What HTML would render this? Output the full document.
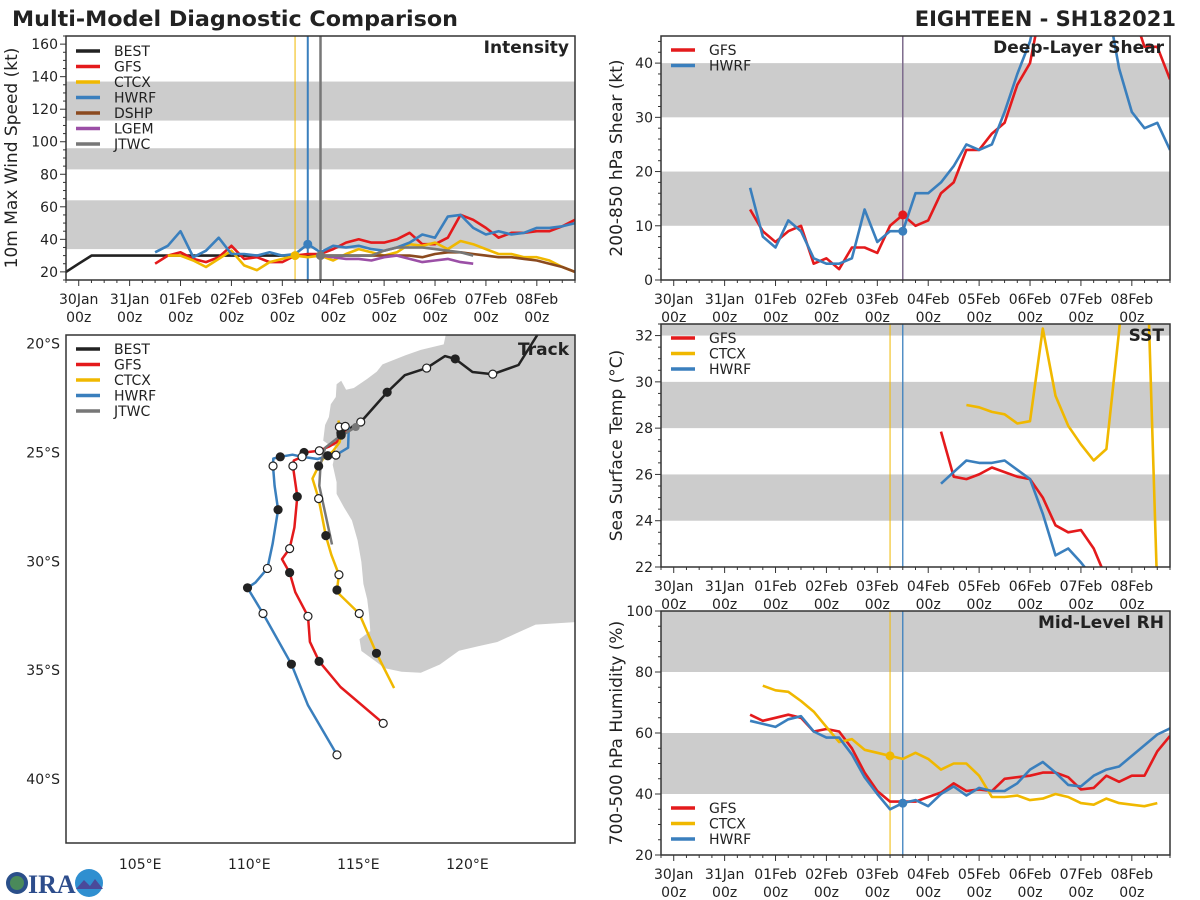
<!DOCTYPE html>
<html><head><meta charset="utf-8"><title>Multi-Model Diagnostic Comparison</title>
<style>
html,body{margin:0;padding:0;background:#fff;}
svg{display:block;font-family:"DejaVu Sans","Liberation Sans",sans-serif;}
</style></head>
<body>
<svg id="chart" width="1200" height="900" viewBox="0 0 1200 900" xmlns="http://www.w3.org/2000/svg">
<text x="12" y="26" font-size="21" font-weight="bold" fill="#222" textLength="446" lengthAdjust="spacingAndGlyphs">Multi-Model Diagnostic Comparison</text>
<text x="1176" y="26" font-size="21" font-weight="bold" fill="#222" text-anchor="end">EIGHTEEN - SH182021</text>
<g>
<circle cx="17" cy="883" r="11" fill="#2a4f8a"/>
<circle cx="17" cy="883" r="7" fill="#4a8a5a"/>
<text x="28" y="893" font-size="26" font-weight="bold" fill="#2d4d8c" font-family="Liberation Serif,serif">IRA</text>
<circle cx="89" cy="883" r="14" fill="#2f8fd0"/>
<path d="M76 889 L84 880 L90 886 L95 879 L103 889 Z" fill="#4a4a9a"/>
</g>
</svg>
<script>
// ---------- DATA ----------
const dayLabels = ['30Jan','31Jan','01Feb','02Feb','03Feb','04Feb','05Feb','06Feb','07Feb','08Feb'];
const tStep = 0.25;
// Intensity (kt)
const intBestStart = -0.25;
const intBest = [20,25,30,30,30,30,30,30,30,30,30,30,30,30,30,30,30,30,30,30,30];
const intGfsStart = 1.5;
const intGfs = [25,30,32,28,26,29,36,28,29,26,26,30,31,31,34,38,40,38,38,40,44,37,37,41,55,52,47,41,44,44,45,45,48,52];
const intCtcxStart = 1.75;
const intCtcx = [30,30,27,23,28,33,24,21,26,28,30,29,30,27,31,34,32,30,32,37,36,38,34,39,37,34,31,31,29,29,27,23,20];
const intHwrfStart = 1.5;
const intHwrf = [32,36,45,29,33,41,31,31,30,32,30,31,37,32,36,35,36,34,33,35,38,43,41,54,55,47,43,45,43,44,47,47,48,50];
const intDshpStart = 4.75;
const intDshp = [30,30,30,30,30,30,30,30,29,31,32,32,31,30,29,29,28,27,25,23,20];
const intLgemStart = 4.75;
const intLgem = [30,29,28,28,27,29,30,28,26,27,28,26,25];
const intJtwcStart = 4.75;
const intJtwc = [30,30,30,30,30,33,35,35,35,34,33,32,30];
// Shear (kt)
const shrGfsStart = 1.5;
const shrGfs = [13,9,7,9,10,3,4,2,6,6,5,10,12,10,11,16,18,24,24,27,29,36,40,52,55,58,60,58,55,55,50,43,43,37];
const shrHwrfStart = 1.5;
const shrHwrf = [17,8,6,11,9,4,3,3,4,13,7,9,9,16,16,18,21,25,24,25,31,38,44,55,58,60,58,55,52,39,31,28,29,24];
// SST (C)
const sstGfsStart = 5.25;
const sstGfs = [27.85,25.9,25.8,26.0,26.3,26.1,25.9,25.8,25.0,23.8,23.5,23.6,22.8,21.5];
const sstHwrfStart = 5.25;
const sstHwrf = [25.6,26.1,26.6,26.5,26.5,26.6,26.2,25.8,24.3,22.5,22.8,22.2,21.5];
const sstCtcxStart = 5.75;
const sstCtcx = [29.0,28.9,28.7,28.6,28.2,28.3,32.3,29.4,28.1,27.3,26.6,27.1,32.2,38.0,38.8,20.9];
// RH (%)
const rhGfsStart = 1.5;
const rhGfs = [66,64,65,66,65,60.5,61.3,60.5,55,47,41,37.5,37.5,37.5,39,40.5,43.5,41,41.5,41,45,45.5,46,47,47,45.5,41.5,42,46,44,46,46,54,59];
const rhCtcxStart = 1.75;
const rhCtcx = [75.5,74,73.5,70.5,67,62,57,58,54.5,53.5,52.5,51.5,53.5,51.5,48,50,50,46,39,39,39.5,38,38.5,40,39,37,36.5,38.5,37,36.5,36,37];
const rhHwrfStart = 1.5;
const rhHwrf = [64,63,62,64.5,65.5,60.5,58.5,58.5,53,45.5,40,35,37,38,36,40,42.5,39.5,42,41,41,43.5,48,50.5,47,43,42.5,46,48,49,52.5,56,59.5,61.5];
// Track [lon E, lat S]
const trkBest = [[123.2,19.6],[122.34,20.98],[121.16,21.4],[120.23,21.3],[119.44,20.7],[118.97,20.57],[118.13,21.12],[117.13,21.45],[116.32,22.23],[115.11,23.6],[114.7,23.83],[114.62,23.9]];
const trkBestDots = [[121.16,21.4,0],[119.44,20.7,1],[118.13,21.12,0],[116.32,22.23,1],[115.11,23.6,0]];
const trkGfs = [[114.44,23.95],[114.0,24.53],[113.65,24.73],[113.21,24.92],[112.51,25.0],[112.42,25.2],[112.04,25.37],[112.0,25.62],[112.2,27.03],[112.07,28.45],[111.85,29.42],[111.5,29.9],[111.85,30.52],[112.11,31.42],[112.69,32.53],[112.78,33.7],[113.2,34.6],[114.18,35.78],[116.14,37.45]];
const trkGfsDots = [[114.2,24.1,1],[113.21,24.92,0],[112.51,25.0,1],[112.42,25.2,0],[112.0,25.62,0],[112.2,27.03,1],[111.85,29.42,0],[111.85,30.52,1],[112.69,32.53,0],[113.2,34.6,1],[116.14,37.45,0]];
const trkCtcx = [[114.09,23.53],[114.13,23.83],[114.4,23.8],[114.21,24.2],[114.14,24.53],[113.83,24.95],[113.39,25.28],[113.18,25.62],[112.9,26.2],[113.18,27.12],[113.51,28.82],[113.76,29.7],[114.11,30.62],[114.02,31.32],[114.14,31.53],[115.04,32.4],[115.83,34.23],[116.64,35.83]];
const trkCtcxDots = [[114.13,23.83,0],[114.4,23.8,0],[114.21,24.2,1],[113.18,25.62,1],[113.18,27.12,0],[113.51,28.82,1],[114.11,30.62,0],[114.02,31.32,1],[115.04,32.4,0],[115.83,34.23,1]];
const trkHwrf = [[114.56,23.83],[114.53,24.78],[113.97,25.12],[113.57,25.17],[113.13,25.3],[112.42,25.2],[111.98,25.1],[111.42,25.2],[111.1,25.28],[111.09,25.62],[111.16,26.53],[111.32,27.63],[111.07,29.2],[110.83,30.33],[110.28,30.98],[109.92,31.22],[110.63,32.4],[111.93,34.73],[112.69,36.62],[114.02,38.9]];
const trkHwrfDots = [[113.97,25.12,0],[113.6,25.15,1],[111.42,25.2,1],[111.09,25.62,0],[111.32,27.63,1],[110.83,30.33,0],[109.92,31.22,1],[110.63,32.4,0],[111.93,34.73,1],[114.02,38.9,0]];
const trkJtwc = [[114.88,23.83],[114.0,24.37],[113.48,24.78],[113.27,25.53],[113.21,26.53],[113.79,29.23]];
const lonTicks = [105,110,115,120];
const latTicks = [20,25,30,35,40];

// ---------- HELPERS ----------
const svg = document.getElementById('chart');
const NS = 'http://www.w3.org/2000/svg';
function mk(parent, tag, attrs){ const e=document.createElementNS(NS,tag); for(const k in attrs) e.setAttribute(k,attrs[k]); parent.appendChild(e); return e; }
const C = {best:'#222222',gfs:'#e41a1c',ctcx:'#f0b800',hwrf:'#3a7fbd',dshp:'#8b4a1f',lgem:'#9b4fa6',jtwc:'#777777'};
const T0=-0.25, T1=9.75;
let clipN=0;

function panel(o){
  const g = mk(svg,'g',{});
  
  
  const xs = t => o.x0 + (t-T0)/(T1-T0)*(o.x1-o.x0);
  const ys = v => o.y1 - (v-o.ymin)/(o.ymax-o.ymin)*(o.y1-o.y0);
  const cid = 'clip'+(clipN++);
  const cp = mk(mk(g,'defs',{}),'clipPath',{id:cid});
  mk(cp,'rect',{x:o.x0,y:o.y0,width:o.x1-o.x0,height:o.y1-o.y0});
  o.bands.forEach(b=>{
    const r = mk(g,'rect',{x:o.x0,y:ys(Math.min(b[1],o.ymax)),width:o.x1-o.x0,height:ys(b[0])-ys(Math.min(b[1],o.ymax)),fill:'#cccccc'});
    
    
  });
  const plot = mk(g,'g',{'clip-path':'url(#'+cid+')'});
  o.vlines.forEach(v=>{
    const l = mk(plot,'line',{x1:xs(v[0]),x2:xs(v[0]),y1:o.y0,y2:o.y1,stroke:v[1],'stroke-width':v[2]});
    
    
  });
  o.series.forEach(s=>{
    const pts = s.vals.map((v,i)=>xs(s.t0+i*tStep).toFixed(1)+','+ys(v).toFixed(1)).join(' ');
    const p = mk(plot,'polyline',{points:pts,fill:'none',stroke:s.color,'stroke-width':2.6,'stroke-linejoin':'round'});
    
    
  });
  o.dots.forEach(d=>{
    const s = o.series.find(q=>q.key===d[0]);
    const i = Math.round((d[1]-s.t0)/tStep);
    const c = mk(plot,'circle',{cx:xs(d[1]),cy:ys(s.vals[i]),r:4.5,fill:s.color});
    
    
  });
  const fr = mk(g,'rect',{x:o.x0,y:o.y0,width:o.x1-o.x0,height:o.y1-o.y0,fill:'none',stroke:'#333','stroke-width':1.5});
  
  
  for(let v=o.ymin; v<=o.ymax+1e-6; v+=o.yminor){
    const major = Math.abs(((v - o.ymajor0) / o.ymajor) - Math.round((v - o.ymajor0) / o.ymajor))<1e-6 && v>=o.ymajor0;
    mk(g,'line',{x1:o.x0,x2:o.x0-(major?6:3),y1:ys(v),y2:ys(v),stroke:'#333','stroke-width':1});
    if(major){
      const t = mk(g,'text',{x:o.x0-8,y:ys(v)+5,'font-size':14,fill:'#222','text-anchor':'end'});
      t.textContent = String(v);
      
      
    }
  }
  for(let t=T0; t<=T1+1e-6; t+=0.25){
    const major = Math.abs(t-Math.round(t))<1e-6 && t>=0;
    mk(g,'line',{x1:xs(t),x2:xs(t),y1:o.y1,y2:o.y1+(major?6:3),stroke:'#333','stroke-width':1});
  }
  dayLabels.forEach((d,i)=>{
    const t1 = mk(g,'text',{x:xs(i),y:o.y1+24,'font-size':14,fill:'#222','text-anchor':'middle'});
    t1.textContent = d;
    
    
    const t2 = mk(g,'text',{x:xs(i),y:o.y1+42,'font-size':14,fill:'#222','text-anchor':'middle'});
    t2.textContent = '00z';
    
    
  });
  const yl = mk(g,'text',{x:0,y:0,'font-size':17,fill:'#222','text-anchor':'middle',transform:'translate('+o.ylabX+','+((o.y0+o.y1)/2)+') rotate(-90)'});
  yl.textContent = o.ylabel;
  
  
  const ti = mk(g,'text',{x:o.x1-6,y:o.y0+17,'font-size':17,'font-weight':'bold',fill:'#222','text-anchor':'end'});
  ti.textContent = o.title;
  
  
  legend(g, o.x0, o.legY, o.series.map(s=>[s.name,s.color]));
}
function legend(g,x0,ly,items){
  items.forEach((it,i)=>{
    const y = ly + i*15.5;
    const l = mk(g,'line',{x1:x0+10,x2:x0+34,y1:y,y2:y,stroke:it[1],'stroke-width':3.5});
    
    
    const t = mk(g,'text',{x:x0+48,y:y+5,'font-size':14,fill:'#222'});
    t.textContent = it[0];
    
    
  });
}

// ---------- PANELS ----------
panel({name:'intensity-panel',x0:66,x1:575,y0:36,y1:280,ymin:15,ymax:165,ymajor0:20,ymajor:20,yminor:5,
  bands:[[34,64],[83,96],[113,137]],ylabel:'10m Max Wind Speed (kt)',ylabX:17,title:'Intensity',legY:51,
  vlines:[[4.25,C.ctcx,1],[4.5,C.hwrf,2],[4.75,C.jtwc,2.5]],
  series:[{key:'best',name:'BEST',color:C.best,t0:intBestStart,vals:intBest},
    {key:'gfs',name:'GFS',color:C.gfs,t0:intGfsStart,vals:intGfs},
    {key:'ctcx',name:'CTCX',color:C.ctcx,t0:intCtcxStart,vals:intCtcx},
    {key:'hwrf',name:'HWRF',color:C.hwrf,t0:intHwrfStart,vals:intHwrf},
    {key:'dshp',name:'DSHP',color:C.dshp,t0:intDshpStart,vals:intDshp},
    {key:'lgem',name:'LGEM',color:C.lgem,t0:intLgemStart,vals:intLgem},
    {key:'jtwc',name:'JTWC',color:C.jtwc,t0:intJtwcStart,vals:intJtwc}],
  dots:[['ctcx',4.25],['hwrf',4.5],['jtwc',4.75]]});
panel({name:'shear-panel',x0:661,x1:1170,y0:36,y1:280,ymin:0,ymax:45,ymajor0:0,ymajor:10,yminor:2,
  bands:[[10,20],[30,40]],ylabel:'200-850 hPa Shear (kt)',ylabX:622,title:'Deep-Layer Shear',legY:50,
  vlines:[[4.5,'#7d6b8c',1.5]],
  series:[{key:'gfs',name:'GFS',color:C.gfs,t0:shrGfsStart,vals:shrGfs},
    {key:'hwrf',name:'HWRF',color:C.hwrf,t0:shrHwrfStart,vals:shrHwrf}],
  dots:[['gfs',4.5],['hwrf',4.5]]});
panel({name:'sst-panel',x0:661,x1:1170,y0:324,y1:567,ymin:22,ymax:32.5,ymajor0:22,ymajor:2,yminor:0.5,
  bands:[[24,26],[28,30],[32,33]],ylabel:'Sea Surface Temp (°C)',ylabX:622,title:'SST',legY:338,
  vlines:[[4.25,C.ctcx,1],[4.5,C.hwrf,1.3]],
  series:[{key:'gfs',name:'GFS',color:C.gfs,t0:sstGfsStart,vals:sstGfs},
    {key:'ctcx',name:'CTCX',color:C.ctcx,t0:sstCtcxStart,vals:sstCtcx},
    {key:'hwrf',name:'HWRF',color:C.hwrf,t0:sstHwrfStart,vals:sstHwrf}],
  dots:[]});
panel({name:'rh-panel',x0:661,x1:1170,y0:611,y1:855,ymin:20,ymax:100,ymajor0:20,ymajor:20,yminor:5,
  bands:[[40,60],[80,100]],ylabel:'700-500 hPa Humidity (%)',ylabX:622,title:'Mid-Level RH',legY:808,
  vlines:[[4.25,C.ctcx,1],[4.5,C.hwrf,1.3]],
  series:[{key:'gfs',name:'GFS',color:C.gfs,t0:rhGfsStart,vals:rhGfs},
    {key:'ctcx',name:'CTCX',color:C.ctcx,t0:rhCtcxStart,vals:rhCtcx},
    {key:'hwrf',name:'HWRF',color:C.hwrf,t0:rhHwrfStart,vals:rhHwrf}],
  dots:[['ctcx',4.25],['hwrf',4.5]]});

// ---------- TRACK ----------
(function(){
  const x0=66,x1=575,y0=335,y1=843, LON0=101.6,LON1=124.93,LAT0=19.6,LAT1=42.95;
  const px = lo => x0+(lo-LON0)/(LON1-LON0)*(x1-x0);
  const py = la => y0+(la-LAT0)/(LAT1-LAT0)*(y1-y0);
  const g = mk(svg,'g',{});
  
  
  const cp = mk(mk(g,'defs',{}),'clipPath',{id:'trkclip'});
  mk(cp,'rect',{x:x0,y:y0,width:x1-x0,height:y1-y0});
  const plot = mk(g,'g',{'clip-path':'url(#trkclip)'});
  const coast=[[1168,0],[1160,40],[1100,55],[1060,70],[1000,95],[985,115],[960,135],[925,160],[905,165],[892,140],[880,150],[878,185],[865,205],[860,240],[850,262],[845,305],[862,318],[882,322],[875,345],[870,372],[880,420],[880,452],[900,490],[920,525],[935,580],[945,640],[950,700],[960,742],[965,785],[968,830],[940,852],[945,885],[980,912],[1005,932],[1050,942],[1100,945],[1150,922],[1200,884],[1250,872],[1300,860],[1350,836],[1400,812],[1510,805],[1510,0]];
  const land = mk(plot,'polygon',{points:coast.map(c=>(x0+(c[0]-173)*(509/1330)).toFixed(1)+','+(y0+(c[1]-14)*(508/1400)).toFixed(1)).join(' '),fill:'#cccccc'});
  
  
  const tracks=[['best','BEST',C.best,trkBest,trkBestDots],['gfs','GFS',C.gfs,trkGfs,trkGfsDots],['ctcx','CTCX',C.ctcx,trkCtcx,trkCtcxDots],['hwrf','HWRF',C.hwrf,trkHwrf,trkHwrfDots],['jtwc','JTWC',C.jtwc,trkJtwc,[]]];
  tracks.forEach(tk=>{
    const p = mk(plot,'polyline',{points:tk[3].map(q=>px(q[0]).toFixed(1)+','+py(q[1]).toFixed(1)).join(' '),fill:'none',stroke:tk[2],'stroke-width':2.5,'stroke-linejoin':'round'});
    
    
  });
  tracks.forEach(tk=>{
    tk[4].forEach(d=>{
      const c = mk(plot,'circle',{cx:px(d[0]),cy:py(d[1]),r:4,fill:d[2]?'#222':'#fff',stroke:'#222','stroke-width':1.2});
      
      
    });
  });
  const jd = mk(plot,'circle',{cx:px(trkJtwc[0][0]),cy:py(trkJtwc[0][1]),r:4,fill:C.jtwc});
  
  
  const fr = mk(g,'rect',{x:x0,y:y0,width:x1-x0,height:y1-y0,fill:'none',stroke:'#333','stroke-width':1.5});
  
  
  latTicks.forEach(la=>{
    const t = mk(g,'text',{x:60,y:py(la)+5,'font-size':14,fill:'#222','text-anchor':'end'});
    t.textContent = la+'°S';
    
    
  });
  lonTicks.forEach(lo=>{
    const t = mk(g,'text',{x:px(lo),y:869,'font-size':14,fill:'#222','text-anchor':'middle'});
    t.textContent = lo+'°E';
    
    
  });
  const ti = mk(g,'text',{x:x1-6,y:y0+20,'font-size':17,'font-weight':'bold',fill:'#222','text-anchor':'end'});
  ti.textContent = 'Track';
  
  
  legend(g,x0,349,tracks.map(t=>[t[1],t[2]]));
})();
</script>
</body></html>
